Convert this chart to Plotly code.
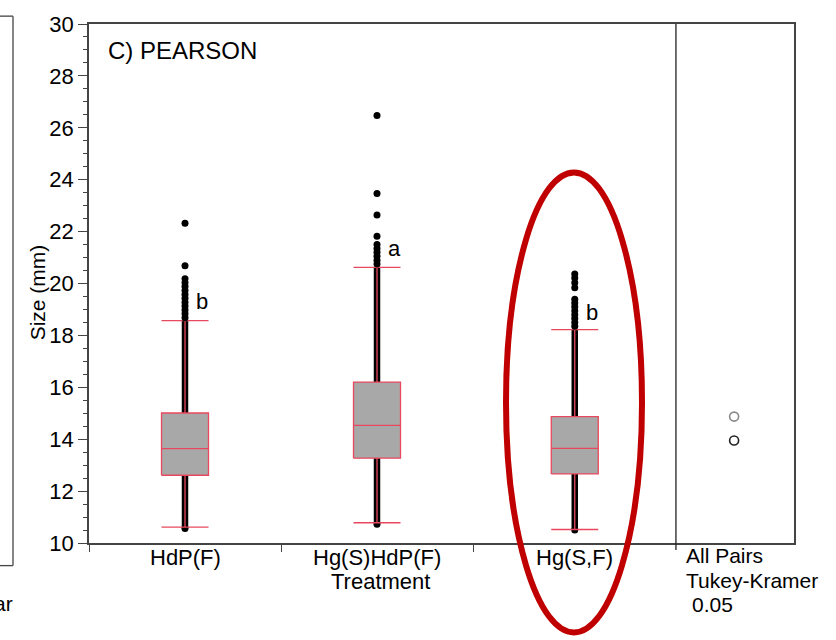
import plotly.graph_objects as go

# ---------------- data ----------------
groups = ["HdP(F)", "Hg(S)HdP(F)", "Hg(S,F)"]
q1 = [12.61, 13.27, 12.66]
median = [13.64, 14.53, 13.65]
q3 = [15.01, 16.20, 14.87]
lower_fence = [10.61, 10.78, 10.52]
upper_fence = [18.57, 20.62, 18.22]
data_min = [10.56, 10.72, 10.50]
outliers_hdp = [22.32, 20.68, 20.18, 20.03, 19.88, 19.73, 19.58, 19.43, 19.28, 19.13, 18.98, 18.83, 18.68]
outliers_hgshdp = [26.47, 23.47, 22.64, 21.82, 21.50, 21.35, 21.20, 21.05, 20.90, 20.75]
outliers_hgsf = [20.37, 20.21, 20.03, 19.84, 19.39, 19.25, 19.10, 18.95, 18.80, 18.65, 18.50, 18.35]
outliers = [outliers_hdp, outliers_hgshdp, outliers_hgsf]
letters = ["b", "a", "b"]
letter_y = [19.3, 21.35, 18.9]
circle_means = [14.87, 13.95]
circle_colors = ["#8a8a8a", "#222222"]
y_ticks = [10, 12, 14, 16, 18, 20, 22, 24, 26, 28, 30]

# ---------------- layout constants ----------------
W, H = 836, 640
L, R, T, B = 89, 794, 15, 543
xpos = [0, 1, 2.03]
half_w = 0.1224
divider_x = 2.557
circle_x = 2.86
FONT = "Liberation Sans, Arial, sans-serif"
RED = "#e8485e"
GRAY = "#a8a8a8"
AX = "#444444"


def px_x(px):
    return (px - L) / (R - L)


def px_y(py):
    return (B - py) / (B - T)


fig = go.Figure()

for i, g in enumerate(groups):
    c = xpos[i]
    # dense column of observations
    fig.add_trace(go.Scatter(x=[c, c], y=[data_min[i], upper_fence[i]], mode="lines",
                             line=dict(color="black", width=6.5), hoverinfo="skip", showlegend=False))
    fig.add_trace(go.Scatter(x=[c], y=[data_min[i]], mode="markers",
                             marker=dict(color="black", size=7), hoverinfo="skip", showlegend=False))
    # whisker line
    fig.add_trace(go.Scatter(x=[c, c], y=[lower_fence[i], upper_fence[i]], mode="lines",
                             line=dict(color=RED, width=1.3), hoverinfo="skip", showlegend=False))
    # box
    fig.add_trace(go.Scatter(x=[c - half_w, c + half_w, c + half_w, c - half_w, c - half_w],
                             y=[q1[i], q1[i], q3[i], q3[i], q1[i]], mode="lines", fill="toself",
                             fillcolor=GRAY, line=dict(color=RED, width=1.3),
                             hoverinfo="skip", showlegend=False))
    # median + caps
    for v in (median[i], lower_fence[i], upper_fence[i]):
        fig.add_trace(go.Scatter(x=[c - half_w, c + half_w], y=[v, v], mode="lines",
                                 line=dict(color=RED, width=1.3), hoverinfo="skip", showlegend=False))
    # points above whisker
    fig.add_trace(go.Scatter(x=[c] * len(outliers[i]), y=outliers[i], mode="markers",
                             marker=dict(color="black", size=7), hoverinfo="skip", showlegend=False))
    fig.add_annotation(x=c, y=letter_y[i], xref="x", yref="y", text=letters[i], showarrow=False,
                       xanchor="left", yanchor="middle", xshift=9,
                       font=dict(family=FONT, size=22, color="black"))
    fig.add_annotation(x=c, y=px_y(558), xref="x", yref="paper", text=g, showarrow=False,
                       xanchor="center", yanchor="middle",
                       font=dict(family=FONT, size=22, color="black"))

# comparison circles
fig.add_trace(go.Scatter(x=[circle_x] * len(circle_means), y=circle_means, mode="markers",
                         marker=dict(symbol="circle-open", size=9, color=circle_colors,
                                     line=dict(width=1.6, color=circle_colors)),
                         hoverinfo="skip", showlegend=False))

annots = [
    dict(x=px_x(380), y=px_y(582), text="Treatment", xanchor="center", size=22),
    dict(x=px_x(684), y=px_y(556), text="All Pairs", xanchor="left", size=21),
    dict(x=px_x(684), y=px_y(581), text="Tukey-Kramer", xanchor="left", size=21),
    dict(x=px_x(690), y=px_y(606), text="0.05", xanchor="left", size=21),
    dict(x=px_x(106), y=px_y(42), text="C) PEARSON", xanchor="left", size=24),
    dict(x=px_x(15), y=px_y(605), text="ar", xanchor="right", size=21),
]
for a in annots:
    fig.add_annotation(x=a["x"], y=a["y"], xref="paper", yref="paper", text=a["text"],
                       showarrow=False, xanchor=a["xanchor"], yanchor="middle",
                       font=dict(family=FONT, size=a["size"], color="black"))

fig.add_annotation(x=px_x(37), y=px_y(288), xref="paper", yref="paper", text="Size (mm)",
                   textangle=-90, showarrow=False, xanchor="center", yanchor="middle",
                   font=dict(family=FONT, size=21, color="black"))

shapes = [
    # divider between main panel and comparison panel
    dict(type="line", xref="x", yref="paper", x0=divider_x, x1=divider_x, y0=px_y(550), y1=1,
         line=dict(color="#222222", width=1.3)),
    # partial neighbouring panel at the left edge
    dict(type="line", xref="paper", yref="paper", x0=px_x(13), x1=px_x(13), y0=px_y(7), y1=px_y(566),
         line=dict(color=AX, width=1.3)),
    dict(type="line", xref="paper", yref="paper", x0=px_x(-2), x1=px_x(13), y0=px_y(7), y1=px_y(7),
         line=dict(color=AX, width=1.3)),
    dict(type="line", xref="paper", yref="paper", x0=px_x(-2), x1=px_x(13), y0=px_y(566), y1=px_y(566),
         line=dict(color=AX, width=1.3)),
    # red highlight ellipse
    dict(type="circle", xref="paper", yref="paper", x0=px_x(506), x1=px_x(642),
         y0=px_y(634), y1=px_y(166), line=dict(color="#c00000", width=6), layer="above"),
]

fig.update_layout(
    width=W, height=H,
    margin=dict(l=L, r=W - R, t=T, b=H - B),
    paper_bgcolor="white", plot_bgcolor="white",
    showlegend=False,
    shapes=shapes,
    xaxis=dict(range=[-0.5, (R - L) / 192 - 0.5], tickvals=[-0.5, 0.5, 1.5], showticklabels=False,
               ticks="outside", ticklen=7, tickcolor=AX, tickwidth=1.3, showgrid=False, zeroline=False,
               showline=True, linecolor=AX, linewidth=1.6, mirror=True, fixedrange=True),
    yaxis=dict(range=[10, 30], tickvals=y_ticks, ticks="outside", ticklen=9, tickcolor=AX, tickwidth=1.3,
               tickfont=dict(family=FONT, size=22, color="black"),
               minor=dict(dtick=0.5, ticks="outside", ticklen=4, tickcolor=AX),
               showgrid=False, zeroline=False, showline=True, linecolor=AX, linewidth=1.6,
               mirror=True, fixedrange=True),
)

fig.write_html("out.html")
